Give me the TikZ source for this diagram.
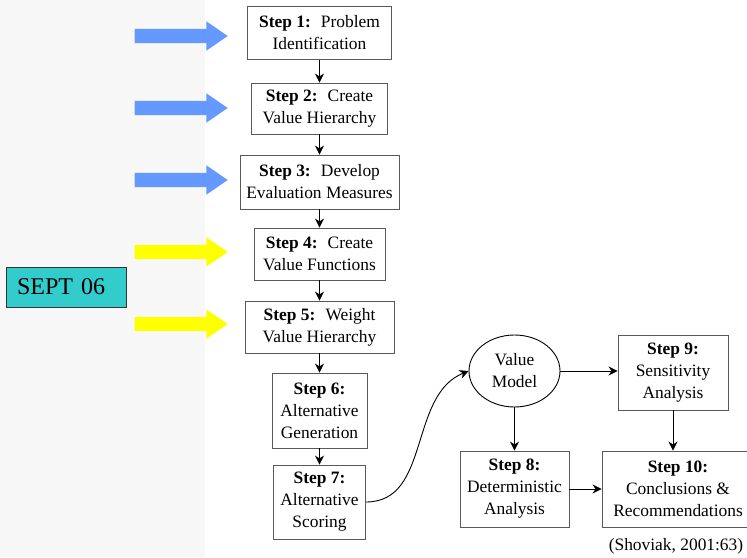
\documentclass[tikz,border=0pt]{standalone}
\usepackage{fontspec}
\setmainfont{Liberation Serif}
\usepackage{tikz}
\usetikzlibrary{arrows.meta, shapes.geometric, shapes.arrows}

\definecolor{fondo}{HTML}{F7F7F7}
\definecolor{azul}{HTML}{6699FF}
\definecolor{amarillo}{HTML}{FFFF00}
\definecolor{turquesa}{HTML}{33CCCC}

\begin{document}
\begin{tikzpicture}[
		x=1pt, y=-1pt,
		font=\fontsize{17.4}{22}\selectfont,
		st/.style={
			rectangle,
			draw=black!65,
			line width=0.9pt,
			inner sep=2pt,
			align=center
		},
		mdl/.style={
			ellipse,
			draw,
			line width=0.9pt,
			minimum width=91pt,
			minimum height=72pt,
			inner sep=0pt,
			align=center
		},
		ba/.style={
			single arrow,
			draw=none,
			inner sep=7pt,
			minimum height=93pt,
			single arrow head extend=7.5pt,
			single arrow tip angle=69
		},
		fl/.style={
			line width=0.9pt,
			-{Stealth[length=9pt,width=9pt]}
		}
		]
		
		\clip (0,0) rectangle (747,557);
		\useasboundingbox (0,0) rectangle (747,557);
		\fill[white] (0,0) rectangle (747,557);
		\fill[fondo] (0,0) rectangle (205,557);
		
		% Pasos 1 a 7
		\node[st, minimum width=144pt, minimum height=53pt] (s1) at (319.5,33)
		{\textbf{Step 1:}~ Problem\\Identification};
		
		\node[st, minimum width=136pt, minimum height=51pt] (s2) at (319.5,108.5)
		{\textbf{Step 2:}~ Create\\Value Hierarchy};
		
		\node[st, minimum width=159pt, minimum height=54pt] (s3) at (319.5,182)
		{\textbf{Step 3:}~ Develop\\Evaluation Measures};
		
		\node[st, minimum width=131pt, minimum height=52pt] (s4) at (319.5,254)
		{\textbf{Step 4:}~ Create\\Value Functions};
		
		\node[st, minimum width=149pt, minimum height=52pt] (s5) at (319.5,327)
		{\textbf{Step 5:}~ Weight\\Value Hierarchy};
		
		\node[st, minimum width=95pt, minimum height=75pt] (s6) at (319.5,410.5)
		{\textbf{Step 6:}\\Alternative\\Generation};
		
		\node[st, minimum width=92pt, minimum height=74pt] (s7) at (319.5,502)
		{\textbf{Step 7:}\\Alternative\\Scoring};
		
		\draw[fl] (s1) -- (s2);
		\draw[fl] (s2) -- (s3);
		\draw[fl] (s3) -- (s4);
		\draw[fl] (s4) -- (s5);
		\draw[fl] (s5) -- (s6);
		\draw[fl] (s6) -- (s7);
		
		% Modelo y pasos 8 a 10
		\node[mdl] (vm) at (514.5,371)
		{Value\\Model};
		
		\node[st, minimum width=110pt, minimum height=75pt] (s9) at (673,372.5)
		{\textbf{Step 9:}\\Sensitivity\\Analysis};
		
		\node[st, minimum width=109pt, minimum height=76pt] (s8) at (514.5,489)
		{\textbf{Step 8:}\\Deterministic\\Analysis};
		
		\node[st, minimum width=152pt, minimum height=76pt] (s10) at (678,489)
		{\textbf{Step 10:}\\Conclusions \&\\Recommendations};
		
		\draw[fl] (s7.east) to[out=0, in=202] (vm.west);
		\draw[fl] (vm) -- (vm -| s9.west);
		\draw[fl] (vm) -- (s8);
		\draw[fl] (s9) -- (s9 |- s10.north);
		\draw[fl] (s8) -- (s8 -| s10.west);
		
		\node (cita) at (676,546.5)
		{(Shoviak, 2001:63)};
		
		% Flechas de avance
		\node[ba, fill=azul] (f1) at (176,36) {};
		\node[ba, fill=azul] (f2) at (176,108) {};
		\node[ba, fill=azul] (f3) at (176,180) {};
		\node[ba, fill=amarillo] (f4) at (176,252) {};
		\node[ba, fill=amarillo] (f5) at (176,324) {};
		
		\node[rectangle, draw=black!80, line width=0.9pt, fill=turquesa,
			minimum height=40pt, inner xsep=11pt, text width=98pt, align=left,
			font=\fontsize{24}{28}\selectfont] (sept) at (66,287)
		{SEPT 06};
		
	\end{tikzpicture}
\end{document}
